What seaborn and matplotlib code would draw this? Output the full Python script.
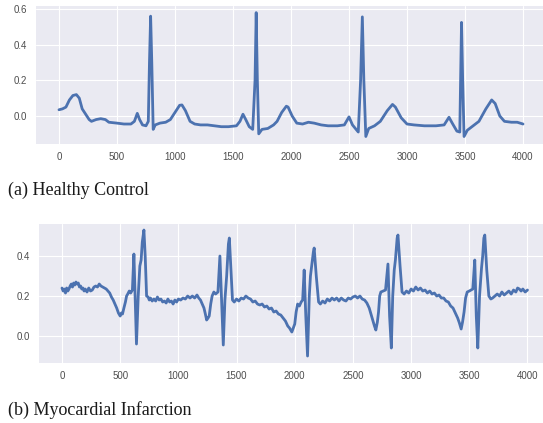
import matplotlib
matplotlib.use("Agg")
import matplotlib.pyplot as plt
import numpy as np
import pandas as pd
import seaborn as sns

# healthy control ECG, values at key samples
hc_sample = [0, 30, 60, 90, 120, 150, 175, 200, 230, 260, 280, 320, 360, 400, 430, 500, 560, 620,
             650, 675, 695, 720, 750, 770, 780, 790, 800, 812, 830, 870, 920, 960, 1000, 1040,
             1060, 1090, 1130, 1170, 1220, 1280, 1340, 1400, 1460, 1530, 1560, 1586, 1610, 1640,
             1670, 1690, 1700, 1710, 1722, 1750, 1800, 1850, 1880, 1920, 1960, 1975, 2010, 2050,
             2100, 2150, 2200, 2260, 2320, 2400, 2460, 2500, 2530, 2580, 2600, 2615, 2628, 2645,
             2670, 2720, 2770, 2830, 2875, 2900, 2950, 3000, 3060, 3150, 3250, 3320, 3362, 3390,
             3430, 3455, 3462, 3470, 3480, 3492, 3520, 3560, 3620, 3680, 3730, 3760, 3800, 3840,
             3900, 3950, 4000]
hc_value = [0.035, 0.04, 0.05, 0.09, 0.115, 0.12, 0.10, 0.04, 0.01, -0.02, -0.03, -0.02, -0.015,
            -0.02, -0.035, -0.04, -0.045, -0.045, -0.03, 0.015, -0.02, -0.05, -0.055, -0.03, 0.3,
            0.56, 0.3, -0.075, -0.05, -0.04, -0.035, -0.02, 0.02, 0.06, 0.062, 0.03, -0.03, -0.045,
            -0.05, -0.05, -0.055, -0.06, -0.06, -0.055, -0.03, 0.01, -0.02, -0.06, -0.075, 0.2,
            0.58, 0.2, -0.1, -0.075, -0.07, -0.05, -0.03, 0.02, 0.055, 0.05, 0.0, -0.04, -0.045,
            -0.035, -0.04, -0.05, -0.055, -0.055, -0.05, -0.005, -0.05, -0.09, 0.2, 0.556, 0.2,
            -0.115, -0.07, -0.055, -0.03, 0.03, 0.065, 0.05, -0.01, -0.045, -0.05, -0.055, -0.055,
            -0.05, -0.007, -0.04, -0.085, -0.09, 0.2, 0.525, 0.2, -0.115, -0.08, -0.06, -0.03,
            0.04, 0.09, 0.07, 0.0, -0.03, -0.035, -0.035, -0.045]

# myocardial infarction ECG
mi_sample = [0, 10, 20, 30, 40, 50, 60, 70, 80, 90, 100, 110, 120, 130, 140, 150, 160, 170, 180,
             190, 200, 215, 230, 245, 260, 275, 290, 305, 320, 335, 350, 365, 380, 395, 410, 425,
             440, 455, 470, 485, 500, 510, 520, 532, 545, 555, 565, 578, 590, 605, 618, 628, 640,
             655, 669, 680, 690, 704, 715, 727, 740, 750, 760, 775, 790, 805, 820, 835, 850, 865,
             880, 895, 910, 925, 940, 955, 970, 985, 1000, 1020, 1040, 1060, 1080, 1100, 1120,
             1140, 1160, 1175, 1190, 1205, 1220, 1232, 1243, 1255, 1265, 1278, 1290, 1305, 1320,
             1340, 1357, 1370, 1386, 1400, 1415, 1430, 1438, 1450, 1465, 1480, 1500, 1520, 1540,
             1560, 1580, 1600, 1620, 1640, 1660, 1680, 1700, 1720, 1740, 1760, 1780, 1800, 1820,
             1840, 1860, 1880, 1900, 1920, 1940, 1955, 1975, 1988, 2000, 2012, 2025, 2040, 2055,
             2068, 2081, 2095, 2110, 2125, 2135, 2160, 2167, 2185, 2205, 2220, 2240, 2260, 2280,
             2300, 2320, 2340, 2360, 2380, 2400, 2420, 2440, 2460, 2480, 2500, 2520, 2540, 2560,
             2580, 2600, 2620, 2640, 2655, 2670, 2685, 2697, 2710, 2720, 2730, 2740, 2760, 2780,
             2801, 2815, 2830, 2842, 2855, 2865, 2880, 2887, 2905, 2922, 2940, 2960, 2980, 3000,
             3020, 3040, 3060, 3080, 3100, 3120, 3140, 3160, 3180, 3200, 3220, 3240, 3260, 3280,
             3300, 3320, 3340, 3360, 3380, 3400, 3415, 3430, 3442, 3455, 3468, 3482, 3500, 3515,
             3530, 3547, 3560, 3573, 3588, 3605, 3615, 3625, 3633, 3650, 3668, 3685, 3700, 3720,
             3740, 3760, 3780, 3800, 3820, 3840, 3860, 3880, 3900, 3915, 3930, 3945, 3960, 3980,
             4000]
mi_value = [0.24, 0.225, 0.235, 0.215, 0.24, 0.225, 0.235, 0.25, 0.26, 0.245, 0.265, 0.255, 0.27,
            0.26, 0.265, 0.245, 0.25, 0.235, 0.24, 0.225, 0.235, 0.22, 0.24, 0.225, 0.23, 0.245,
            0.25, 0.245, 0.26, 0.25, 0.245, 0.24, 0.235, 0.225, 0.215, 0.195, 0.18, 0.16, 0.14,
            0.115, 0.10, 0.115, 0.11, 0.14, 0.17, 0.2, 0.21, 0.225, 0.215, 0.23, 0.41, 0.2, -0.04,
            0.2, 0.35, 0.38, 0.47, 0.53, 0.4, 0.2, 0.195, 0.18, 0.19, 0.175, 0.185, 0.175, 0.195,
            0.18, 0.185, 0.17, 0.175, 0.165, 0.185, 0.17, 0.175, 0.16, 0.18, 0.17, 0.185, 0.18,
            0.19, 0.185, 0.2, 0.19, 0.2, 0.19, 0.205, 0.19, 0.18, 0.16, 0.14, 0.11, 0.08, 0.09,
            0.1, 0.16, 0.2, 0.22, 0.21, 0.22, 0.40, 0.2, -0.045, 0.18, 0.3, 0.46, 0.49, 0.35, 0.18,
            0.17, 0.185, 0.175, 0.19, 0.185, 0.2, 0.19, 0.185, 0.17, 0.175, 0.16, 0.155, 0.16,
            0.145, 0.15, 0.135, 0.14, 0.12, 0.125, 0.11, 0.105, 0.09, 0.075, 0.05, 0.04, 0.02,
            0.04, 0.06, 0.12, 0.16, 0.15, 0.17, 0.18, 0.33, 0.1, -0.10, 0.2, 0.3, 0.42, 0.44, 0.3,
            0.17, 0.16, 0.175, 0.165, 0.185, 0.175, 0.19, 0.18, 0.19, 0.175, 0.19, 0.18, 0.175,
            0.19, 0.185, 0.195, 0.2, 0.19, 0.2, 0.185, 0.18, 0.165, 0.14, 0.11, 0.08, 0.05, 0.03,
            0.07, 0.12, 0.2, 0.22, 0.225, 0.23, 0.36, 0.1, -0.06, 0.2, 0.33, 0.38, 0.49, 0.505,
            0.35, 0.22, 0.21, 0.225, 0.215, 0.235, 0.225, 0.245, 0.23, 0.24, 0.225, 0.23, 0.215,
            0.225, 0.21, 0.215, 0.2, 0.205, 0.19, 0.19, 0.175, 0.17, 0.15, 0.14, 0.115, 0.09,
            0.065, 0.035, 0.07, 0.12, 0.19, 0.22, 0.225, 0.23, 0.235, 0.38, 0.1, -0.06, 0.2, 0.34,
            0.4, 0.49, 0.505, 0.33, 0.2, 0.185, 0.19, 0.2, 0.21, 0.2, 0.22, 0.205, 0.215, 0.225,
            0.21, 0.23, 0.22, 0.24, 0.235, 0.225, 0.235, 0.22, 0.23]

x_ticks = [0, 500, 1000, 1500, 2000, 2500, 3000, 3500, 4000]
hc_yticks = [0.0, 0.2, 0.4, 0.6]
mi_yticks = [0.0, 0.2, 0.4]

sns.set_style("darkgrid")
plt.rcParams['font.family'] = ['Liberation Sans', 'DejaVu Sans']

hc = pd.DataFrame({'sample': hc_sample, 'value': hc_value})
mi = pd.DataFrame({'sample': mi_sample, 'value': mi_value})

fig = plt.figure(figsize=(5.43, 4.23), dpi=100)
ax1 = fig.add_axes([0.0659, 0.6596, 0.940, 0.3262])
ax2 = fig.add_axes([0.0713, 0.1418, 0.943, 0.3286])

line_col = '#4C72B0'
sns.lineplot(data=hc, x='sample', y='value', ax=ax1, color=line_col, linewidth=2.0)
sns.lineplot(data=mi, x='sample', y='value', ax=ax2, color=line_col, linewidth=2.0)

for ax, yt, ylim in [(ax1, hc_yticks, (-0.157, 0.617)), (ax2, mi_yticks, (-0.135, 0.56))]:
    ax.set_xlim(-200, 4200)
    ax.set_ylim(*ylim)
    ax.set_xticks(x_ticks)
    ax.set_yticks(yt)
    ax.set_xlabel('')
    ax.set_ylabel('')
    ax.tick_params(labelsize=7, colors='0.3', length=0, pad=6)
    for s in ax.spines.values():
        s.set_visible(False)

fig.text(0.015, 1 - 190 / 423, '(a) Healthy Control', family='Liberation Serif',
         fontsize=13, va='center', ha='left', color='0.1')
fig.text(0.015, 1 - 410 / 423, '(b) Myocardial Infarction', family='Liberation Serif',
         fontsize=13, va='center', ha='left', color='0.1')

fig.savefig('out.png', dpi=100)
